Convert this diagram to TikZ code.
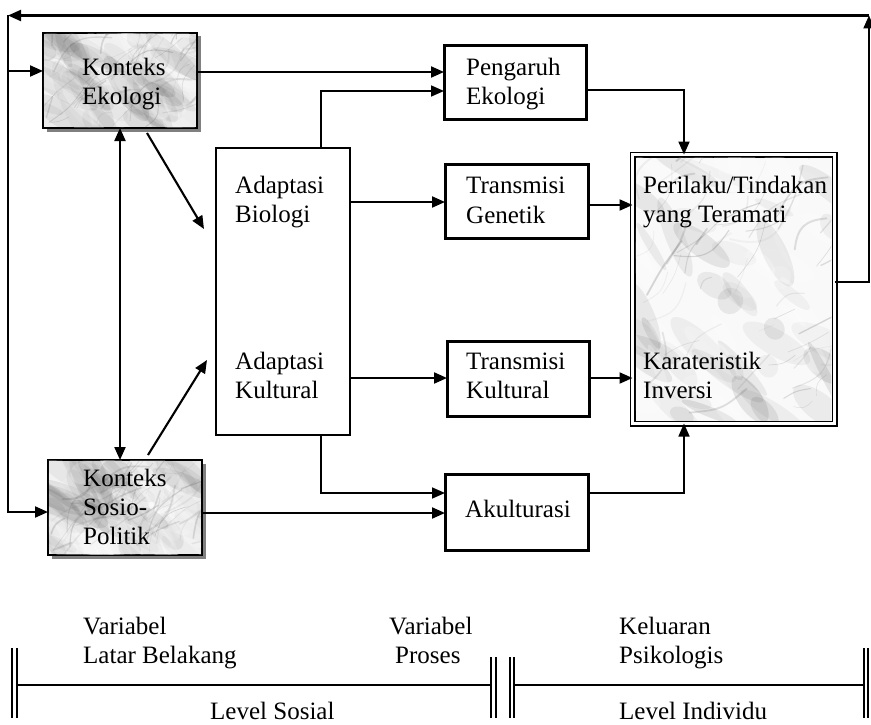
\documentclass[tikz,border=0pt]{standalone}
\usepackage{fontspec}
\setmainfont{Liberation Serif}
\usetikzlibrary{arrows.meta,shadows}
\newcommand\lblfont{\fontsize{25}{29}\selectfont}

% marble-like fill inside a rectangle: #1,#2 = top left, #3,#4 = bottom right,
% #5 = random seed, #6 = base colour, #7 = vein strength
\newcommand\marbletex[7]{%
  \begin{scope}
    \clip (#1,#2) rectangle (#3,#4);
    \fill[#6] (#1,#2) rectangle (#3,#4);
    \pgfmathsetseed{#5}
    % soft clouds
    \foreach \k in {1,...,90}{%
      \pgfmathsetmacro\px{#1+rnd*(#3-#1)}%
      \pgfmathsetmacro\py{#2+rnd*(#4-#2)}%
      \pgfmathsetmacro\rx{10+rnd*35}%
      \pgfmathsetmacro\ry{4+rnd*10}%
      \pgfmathsetmacro\ang{-20-rnd*50}%
      \pgfmathsetmacro\op{0.03+0.06*rnd}%
      \pgfmathsetmacro\wb{rnd}%
      \ifdim\wb pt>0.45pt
        \fill[white, opacity=3*\op, rotate around={\ang:(\px,\py)}] (\px,\py) ellipse [x radius=\rx, y radius=\ry];
      \else
        \fill[black, opacity=\op, rotate around={\ang:(\px,\py)}] (\px,\py) ellipse [x radius=\rx, y radius=\ry];
      \fi
    }
    % veins
    \foreach \k in {1,...,55}{%
      \pgfmathsetmacro\px{#1+rnd*(#3-#1)}%
      \pgfmathsetmacro\py{#2+rnd*(#4-#2)}%
      \pgfmathsetmacro\ang{-15-rnd*60}%
      \pgfmathsetmacro\len{15+rnd*55}%
      \pgfmathsetmacro\bend{rnd*80-40}%
      \pgfmathsetmacro\op{(0.04+0.16*rnd)*#7}%
      \pgfmathsetmacro\lw{0.4+1.6*rnd}%
      \draw[black!70, opacity=\op, line width=\lw pt, line cap=round]
        (\px,\py) .. controls +(\ang+\bend:\len/2) and +(\ang+180-\bend:\len/2) .. +(\ang:\len);
    }
  \end{scope}}

\begin{document}
\begin{tikzpicture}[x=1pt, y=-1pt,
  tip/.style={-{Triangle[length=13pt,width=11pt]}},
  arr/.style={line width=2.1pt, tip},
  thinarr/.style={line width=1.6pt, tip},
  boldbox/.style={draw, line width=3pt, fill=white, inner sep=0pt, outer sep=0pt},
  plainbox/.style={draw, line width=1.5pt, fill=white, inner sep=0pt, outer sep=0pt},
  ctxbox/.style={draw, line width=1.8pt, fill=gray!15, inner sep=0pt, outer sep=0pt,
    drop shadow={shadow xshift=3.5pt, shadow yshift=-3.5pt, fill=black!50, opacity=1}},
  outbox/.style={draw, line width=1.9pt, double, double distance=2.2pt, fill=gray!5,
    inner sep=0pt, outer sep=0pt},
  lbl/.style={font=\lblfont, anchor=base west, inner sep=0pt, text=black},
  bar/.style={line width=1.5pt},
  levelline/.style={line width=2.8pt}
]
\useasboundingbox (0,0) rectangle (871,725);

% ---------- boxes ----------
\node[ctxbox, minimum width=154pt, minimum height=95pt] (eko) at (120,80.5) {};
\node[ctxbox, minimum width=154pt, minimum height=95pt] (sosio) at (125,507.5) {};
\node[plainbox, minimum width=134pt, minimum height=287pt] (adapt) at (283,291.5) {};
\node[boldbox, minimum width=142pt, minimum height=74pt] (peng) at (515,83) {};
\node[boldbox, minimum width=143pt, minimum height=74pt] (tg) at (516.5,201) {};
\node[boldbox, minimum width=142pt, minimum height=75pt] (tk) at (518,378.5) {};
\node[boldbox, minimum width=143pt, minimum height=76pt] (akul) at (516.5,512) {};
\node[outbox, minimum width=202pt, minimum height=269pt] (big) at (733.5,289) {};

% marble surfaces
\marbletex{43.9}{33.9}{196.1}{127.1}{11}{gray!15}{1}
\marbletex{48.9}{460.9}{201.1}{554.1}{23}{gray!15}{1}
\marbletex{635.6}{157.6}{831.4}{420.4}{37}{gray!5}{1.2}

% ---------- labels ----------
\node[lbl] (eko1) at (82,76) {Konteks};
\node[lbl] (eko2) at (82,104) {Ekologi};
\node[lbl] (sos1) at (83,486) {Konteks};
\node[lbl] (sos2) at (83,515) {Sosio-};
\node[lbl] (sos3) at (83,544) {Politik};
\node[lbl] (ab1) at (235,193) {Adaptasi};
\node[lbl] (ab2) at (235,222) {Biologi};
\node[lbl] (ak1) at (235,369) {Adaptasi};
\node[lbl] (ak2) at (235,398) {Kultural};
\node[lbl] (pe1) at (466,76) {Pengaruh};
\node[lbl] (pe2) at (466,105) {Ekologi};
\node[lbl] (tg1) at (466,193) {Transmisi};
\node[lbl] (tg2) at (466,223) {Genetik};
\node[lbl] (tk1) at (466,369) {Transmisi};
\node[lbl] (tk2) at (466,398) {Kultural};
\node[lbl] (ak) at (465,517) {Akulturasi};
\node[lbl] (bg1) at (643,193) {Perilaku/Tindakan};
\node[lbl] (bg2) at (643,222) {yang Teramati};
\node[lbl] (bg3) at (643,369) {Karateristik};
\node[lbl] (bg4) at (643,398) {Inversi};

% ---------- turning points ----------
\coordinate (ptop) at (321,91);
\coordinate (pbot) at (321,493);
\coordinate (qtop) at (684,90);
\coordinate (qbot) at (684,493);
\coordinate (d1a) at (147,133);
\coordinate (d1b) at (204,229);
\coordinate (d2a) at (148,455);
\coordinate (d2b) at (207,360);
\coordinate (fbr) at (869,282);
\coordinate (fbtr) at (869,15.5);
\coordinate (fbtl) at (8,15.5);
\coordinate (fbe) at (8,71);
\coordinate (fbs) at (8,512);

% ---------- connectors ----------
\draw[arr] (eko.east |- 0,72) -- (peng.west |- 0,72);
\draw[thinarr] (adapt.north -| ptop) -- (ptop) -- (peng.west |- ptop);
\draw[arr] (peng.east |- qtop) -- (qtop) -- (big.north -| qtop);
\draw[arr] (adapt.east |- 0,202) -- (tg.west |- 0,202);
\draw[arr] (tg.east |- 0,205) -- (big.west |- 0,205);
\draw[arr] (adapt.east |- 0,378) -- (tk.west |- 0,378);
\draw[arr] (tk.east |- 0,378) -- (big.west |- 0,378);
\draw[thinarr] (adapt.south -| pbot) -- (pbot) -- (akul.west |- pbot);
\draw[arr] (sosio.east |- 0,513) -- (akul.west |- 0,513);
\draw[thinarr] (akul.east |- qbot) -- (qbot) -- (big.south -| qbot);
\draw[line width=2.1pt, {Triangle[length=13pt,width=11pt]}-{Triangle[length=13pt,width=11pt]}]
  (eko.south -| 120,0) -- (sosio.north -| 120,0);
\draw[arr] (d1a) -- (d1b);
\draw[arr] (d2a) -- (d2b);

% feedback loop
\draw[arr] (big.east |- fbr) -- (fbr) -- (fbtr);
\draw[arr] (fbtr) -- (fbtl);
\draw[arr] (fbtl) -- (fbs) -- (sosio.west |- fbs);
\draw[arr] (fbe) -- (eko.west |- fbe);

% ---------- level scale ----------
\draw[bar] (12,648) -- (12,718);
\draw[bar] (17,648) -- (17,718);
\draw[levelline] (17,685) -- (491,685);
\draw[bar] (491,657) -- (491,718);
\draw[bar] (496,657) -- (496,718);
\draw[bar] (510,657) -- (510,718);
\draw[bar] (514,657) -- (514,718);
\draw[levelline] (514,685) -- (864,685);
\draw[bar] (864,648) -- (864,718);
\draw[bar] (868,648) -- (868,718);

\node[lbl] (v1) at (83,634) {Variabel};
\node[lbl] (v2) at (83,663) {Latar Belakang};
\node[lbl] (v3) at (389,634) {Variabel};
\node[lbl] (v4) at (395,663) {Proses};
\node[lbl] (v5) at (619,634) {Keluaran};
\node[lbl] (v6) at (619,663) {Psikologis};
\node[lbl] (l1) at (210,719) {Level Sosial};
\node[lbl] (l2) at (619,719) {Level Individu};
\end{tikzpicture}
\end{document}
